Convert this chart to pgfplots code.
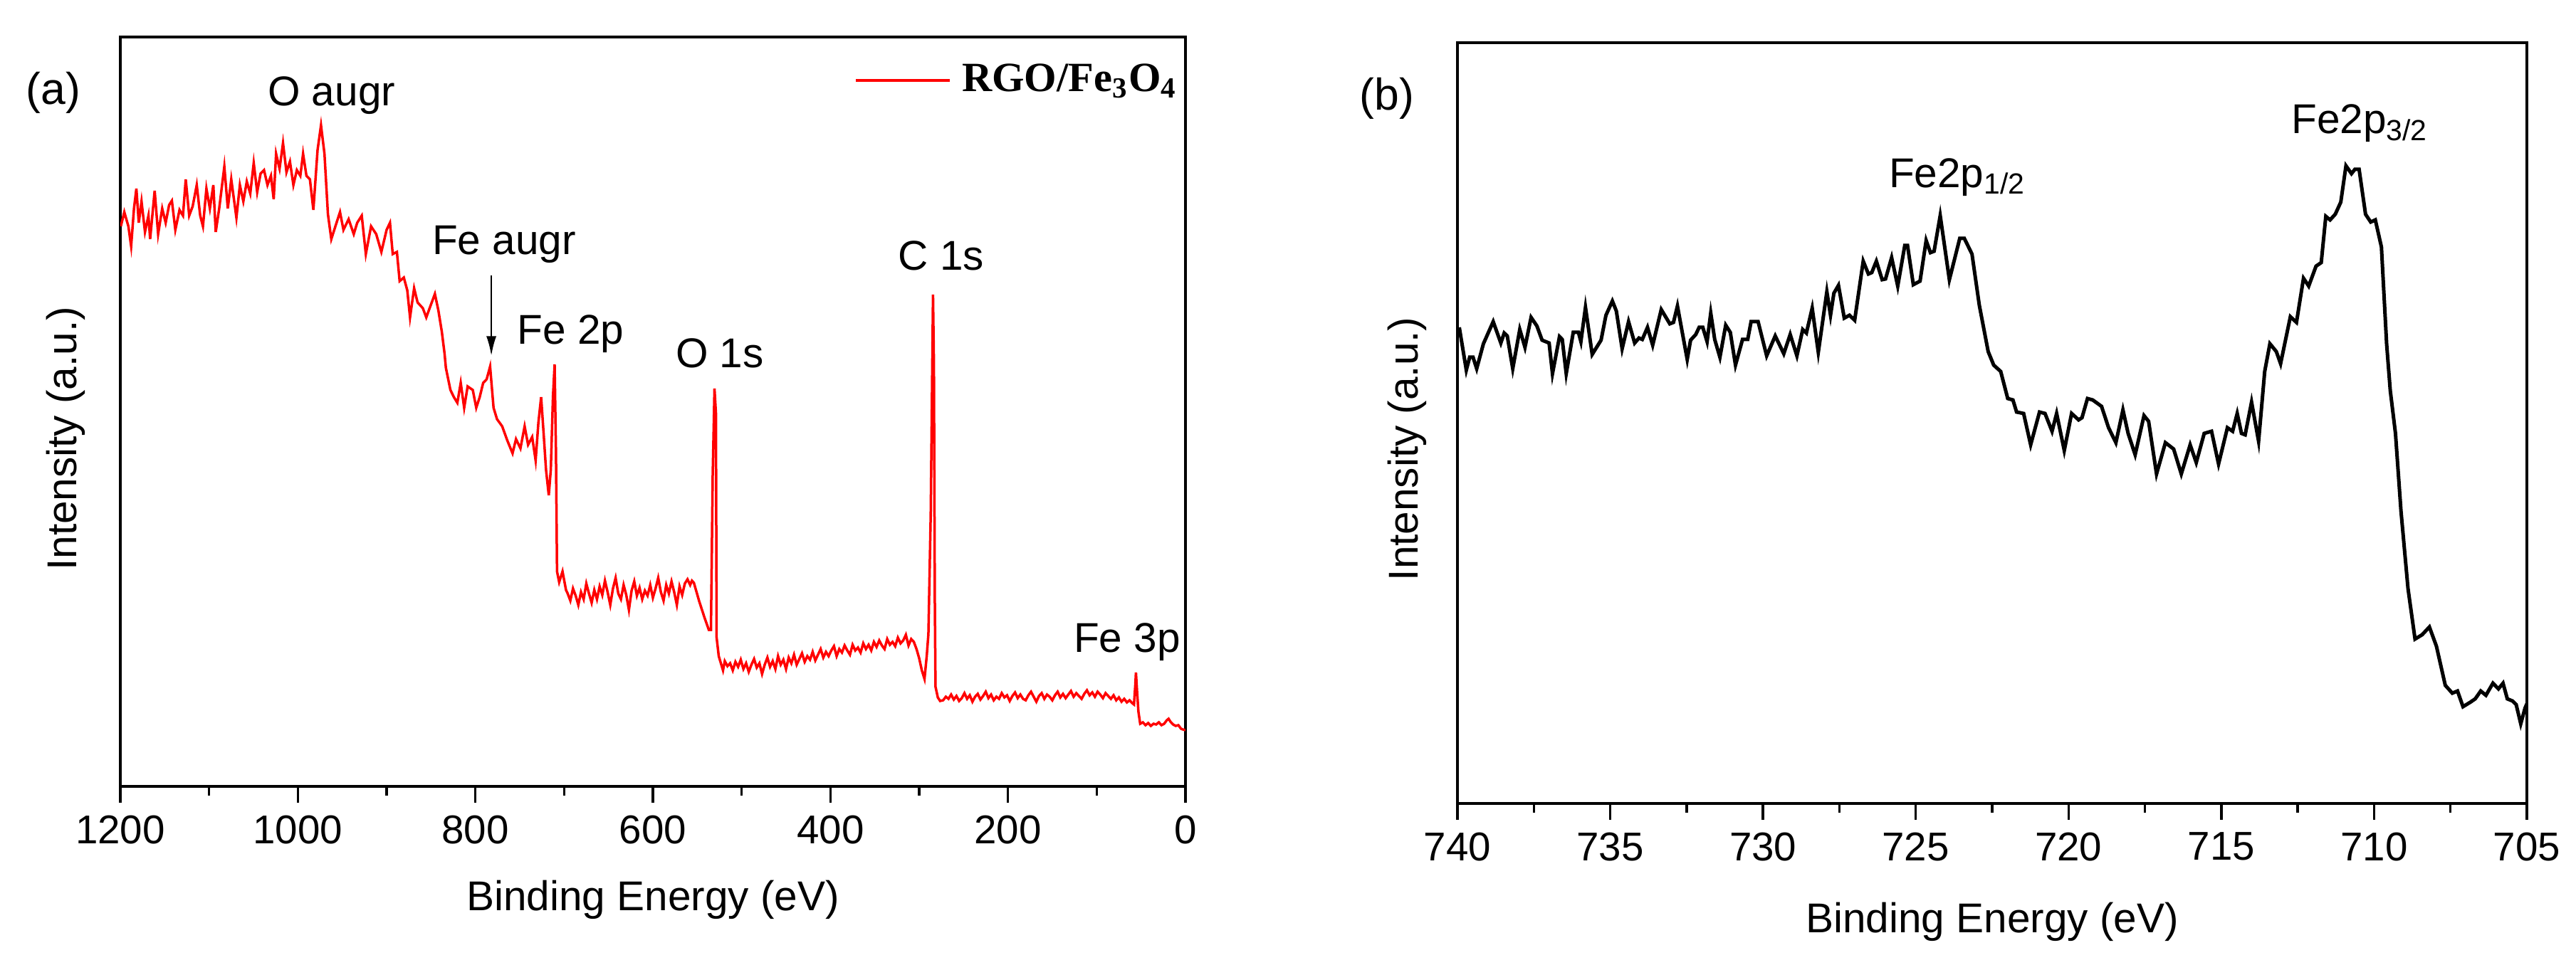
\documentclass[border=0pt]{standalone}
\usepackage{fontspec}
\setmainfont{Liberation Sans}
\newfontfamily\timesfont{Liberation Serif}
\usepackage{pgfplots}
\usepackage{pgfplotstable}
\pgfplotsset{compat=1.18}
\usetikzlibrary{arrows.meta}

\pgfplotstableread{
be y
1199.4 794
1195.5 814
1190.9 794
1187.8 766
1184.6 819
1181.9 847
1179.2 799
1176.1 829
1172.2 786
1168.3 809
1166.4 776
1161.3 844
1157.4 783
1152.8 819
1148.9 799
1145.0 824
1141.9 830
1138.0 789
1133.3 817
1129.4 809
1126.3 860
1122.4 809
1118.5 822
1113.9 852
1110.0 809
1106.9 794
1103.0 847
1099.1 819
1095.2 852
1092.5 786
1088.6 819
1082.8 878
1078.9 819
1075.0 860
1069.2 806
1065.3 852
1061.4 829
1057.5 857
1053.6 840
1049.7 883
1045.8 842
1042.0 868
1038.1 873
1034.2 852
1030.3 865
1027.2 832
1024.5 896
1020.6 875
1016.7 911
1012.8 870
1008.9 885
1005.0 852
1001.1 873
997.2 865
994.1 896
990.3 865
986.4 860
982.5 817
977.8 901
973.9 936
970.0 896
966.1 811
962.3 776
956.4 799
952.5 814
948.6 789
942.8 804
937.0 783
933.1 799
928.0 809
923.4 755
917.5 794
911.7 783
905.9 758
900.0 789
896.2 799
893.1 755
888.4 758
885.3 717
880.6 722
876.7 704
873.6 666
869.0 707
865.1 687
859.2 679
855.3 666
851.5 679
845.6 699
841.7 676
837.8 646
834.7 615
833.2 595
828.1 564
824.2 554
820.3 546
816.5 574
812.6 539
808.7 569
802.9 564
799.0 539
795.1 554
791.2 574
787.3 579
783.4 597
779.5 539
775.6 523
769.8 513
764.0 493
758.1 475
754.2 495
749.2 482
744.5 513
740.6 487
736.0 498
732.1 465
729.0 518
725.9 554
723.1 503
720.4 452
717.3 416
715.0 452
712.6 554
710.7 600
709.2 477
708.0 309
705.6 294
701.8 309
697.9 283
696 278
693 268
690 285
687 275
684 262
681 280
678 270
675 292
672 278
669 265
666 283
663 270
660 288
657 276
654 296
651 280
648 262
645 285
642 300
639 278
636 270
633 290
630 276
627 255
624 282
621 295
618 275
615 286
612 270
609 282
606 275
603 290
600 272
597 285
594 300
591 280
588 268
585 290
582 278
579 295
576 280
573 262
570 288
567 276
564 292
561 298
558 290
556 296
553.8 293
547.8 267
541.8 244
537.0 227
534.6 227
532.6 445
530.6 566
529.0 532
528.2 216
525.8 190
521.0 170
519 183
516 176
513 180
510 170
507 182
504 175
501 185
498 172
495 180
492 168
489 178
486 186
483 174
480 180
477 165
474 178
471 188
468 175
465 183
462 172
459 190
456 178
453 185
450 172
447 188
444 180
441 192
438 178
435 186
432 194
429 182
426 190
423 185
420 196
417 184
414 192
411 200
408 188
405 196
402 190
399 198
396 204
393 190
390 200
387 195
384 205
381 198
378 192
375 206
372 198
369 202
366 195
363 208
360 200
357 206
354 198
351 210
348 203
345 212
342 205
339 200
336 214
333 206
330 210
327 204
324 216
321 208
318 212
315 220
312 205
309 214
306 210
303 200
300 187
297 170
294 158
291.5 190
289.6 221
287 388
284.4 698
283.4 600
282.4 273
281.6 147
279 132
276.4 127
273 128
270 133
267 130
264 136
261 129
258 134
255 127
252 131
249 138
246 130
243 135
240 126
237 133
234 137
231 129
228 134
225 140
222 131
219 136
216 128
213 133
210 130
207 138
204 132
201 135
198 127
195 134
192 139
189 131
186 136
183 130
180 128
177 135
174 140
171 133
168 126
165 134
162 138
159 130
156 136
153 133
150 128
147 135
144 140
141 132
138 137
135 131
132 136
129 141
126 133
123 138
120 134
117 130
114 137
111 142
108 135
105 139
102 133
99 140
96 136
93 131
90 138
87 134
84 130
81 135
78 128
75 132
72 126
69 130
66 125
63 128
60 124
58 122
56.5 150
55.8 167
54.5 140
53 112
51 95
48 97
45 93
42 96
39 92
36 95
33 94
30 97
27 93
24 95
21 100
19 102
17 98
14 94
11 92
8 93
5 88
3 87
0 86
}\leftdata

\pgfplotstableread{
be y
739.94 669
739.71 609
739.60 627
739.49 627
739.37 611
739.15 646
738.83 677
738.58 647
738.47 661
738.37 657
738.19 611
737.96 666
737.79 641
737.59 683
737.40 671
737.23 651
737.00 647
736.89 604
736.66 656
736.57 652
736.44 604
736.21 662
736.04 662
735.96 649
735.81 697
735.59 631
735.30 651
735.14 686
734.93 706
734.80 692
734.61 639
734.40 677
734.20 647
734.06 654
733.95 652
733.78 669
733.61 644
733.33 694
733.05 674
732.93 676
732.80 699
732.48 624
732.37 651
732.20 659
732.09 669
731.97 669
731.83 649
731.71 689
731.58 652
731.41 627
731.22 672
731.07 662
730.90 616
730.67 652
730.50 652
730.39 677
730.16 677
729.88 629
729.60 657
729.32 632
729.11 659
728.89 629
728.70 666
728.58 661
728.39 696
728.19 634
727.91 719
727.79 686
727.68 717
727.53 728
727.34 682
727.17 686
727.00 679
726.72 762
726.55 744
726.44 746
726.29 762
726.10 736
725.99 737
725.79 767
725.59 727
725.36 784
725.27 784
725.08 729
724.86 734
724.66 791
724.52 774
724.40 776
724.20 826
723.90 736
723.56 794
723.41 794
723.16 772
722.92 700
722.63 635
722.45 616
722.22 607
721.99 569
721.82 567
721.70 550
721.47 548
721.24 504
720.95 550
720.77 548
720.54 523
720.39 548
720.14 496
719.90 548
719.67 539
719.56 542
719.38 569
719.21 567
718.92 558
718.69 528
718.45 507
718.22 553
718.05 520
717.82 490
717.53 545
717.38 537
717.12 463
716.83 507
716.56 498
716.31 463
716.02 504
715.82 479
715.56 520
715.32 523
715.09 477
714.80 528
714.63 523
714.48 548
714.34 520
714.22 518
714.01 564
713.78 509
713.58 607
713.41 646
713.20 635
713.06 618
712.74 684
712.54 676
712.31 738
712.14 727
711.90 755
711.73 760
711.58 825
711.44 820
711.27 828
711.09 845
710.92 896
710.74 885
710.63 891
710.49 891
710.28 828
710.11 817
709.96 820
709.76 782
709.59 646
709.47 580
709.30 520
709.12 411
708.89 302
708.66 231
708.43 237
708.19 248
707.96 221
707.67 166
707.44 155
707.27 158
707.09 136
706.86 142
706.69 147
706.51 158
706.34 152
706.11 169
705.93 161
705.78 169
705.64 147
705.47 144
705.35 139
705.20 112
705.06 134
705.00 140
}\rightdata

\pgfplotsset{
  xpsstyle/.style={
    scale only axis,
    axis line style={line width=0.8pt},
    x dir=reverse,
    ytick=\empty,
    xtick pos=left,
    tick align=outside,
    major tick length=4.6pt,
    minor tick length=2.5pt,
    every tick/.style={black, line width=0.7pt},
    minor x tick num=1,
    tick label style={font=\fontsize{11.3}{13}\selectfont},
    /pgf/number format/assume math mode=true,
    /pgf/number format/1000 sep={},
    label style={font=\fontsize{11.7}{14}\selectfont},
    clip mode=individual,
  }
}

\begin{document}
\begin{tikzpicture}
\useasboundingbox (0,0) rectangle (723.6pt,271pt);

\begin{axis}[xpsstyle,
  at={(33.8pt,50pt)}, anchor=south west,
  width=299.2pt, height=210.6pt,
  xmin=0, xmax=1200, ymin=7, ymax=1060,
  xtick={0,200,...,1200},
  xlabel={Binding Energy (eV)},
  ylabel={Intensity (a.u.)},
  xlabel style={at={(axis description cs:0.5,-0.151)}, anchor=center},
  ylabel style={at={(axis description cs:-0.0515,0.464)}, anchor=center},
  legend style={draw=none, fill=none, at={(0.689,0.942)}, anchor=west,
    inner sep=0pt, nodes={inner sep=0pt}, column sep=3pt,
    font=\timesfont\bfseries\fontsize{11.7}{14}\selectfont},
  legend image code/.code={\draw[#1] (0pt,0pt) -- (26.4pt,0pt);},
]
\addplot[red, line width=0.7pt] table[x=be, y=y] {\leftdata};
\addlegendentry{RGO/Fe\textsubscript{3}O\textsubscript{4}}
\begin{scope}[every node/.style={anchor=base, inner sep=0pt, font=\fontsize{11.7}{14}\selectfont}]
\node at (axis cs:962,963) {O augr};
\node at (axis cs:767.6,754) {Fe augr};
\node at (axis cs:692.6,628) {Fe 2p};
\node at (axis cs:524.6,595) {O 1s};
\node at (axis cs:275.1,732) {C 1s};
\node at (axis cs:65.8,196) {Fe 3p};
\end{scope}
\draw[line width=0.5pt, -{Latex[length=5.5pt,width=2.8pt]}] (axis cs:782,725) -- (axis cs:782,612);
\end{axis}

\begin{axis}[xpsstyle,
  at={(409.4pt,45.2pt)}, anchor=south west,
  width=300.4pt, height=213.8pt,
  xmin=705, xmax=740, ymin=0, ymax=1069,
  xtick={705,710,...,740},
  xlabel={Binding Energy (eV)},
  ylabel={Intensity (a.u.)},
  xlabel style={at={(axis description cs:0.5,-0.156)}, anchor=center},
  ylabel style={at={(axis description cs:-0.0473,0.466)}, anchor=center},
]
\addplot[black, line width=1pt] table[x=be, y=y] {\rightdata};
\begin{scope}[every node/.style={anchor=base west, inner sep=0pt, font=\fontsize{11.7}{14}\selectfont}]
\node at (axis cs:725.9,865) {Fe2p\textsubscript{1/2}};
\node at (axis cs:712.73,941) {Fe2p\textsubscript{3/2}};
\end{scope}
\end{axis}

\node[font=\fontsize{12.5}{15}\selectfont] at (15pt,245pt) {(a)};
\node[font=\fontsize{12.5}{15}\selectfont] at (389.6pt,243.4pt) {(b)};
\end{tikzpicture}
\end{document}
